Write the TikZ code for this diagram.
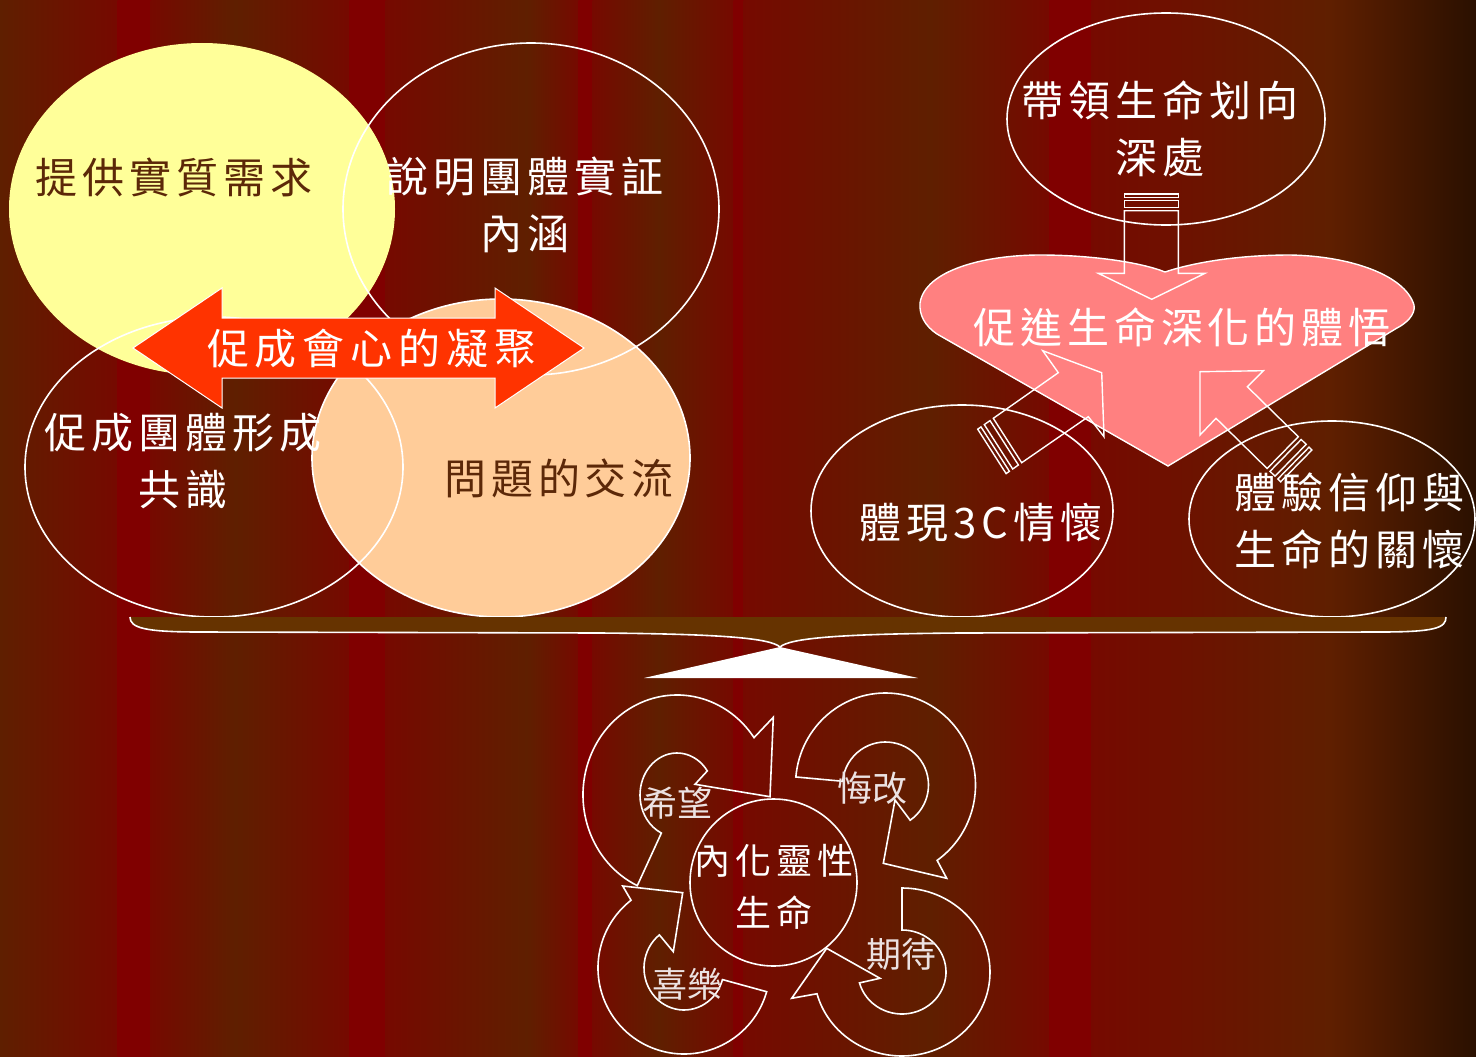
\documentclass[tikz,border=0pt]{standalone}
\usepackage{fontspec}
\newfontfamily\cjk{Noto Sans CJK TC}
\usetikzlibrary{calc}
\definecolor{bgred}{RGB}{128,0,0}
\definecolor{bgbrown}{RGB}{95,31,0}
\definecolor{bgdark}{RGB}{42,16,0}
\colorlet{bgnear}{bgbrown!30!bgred}
\definecolor{yel}{RGB}{255,255,153}
\definecolor{peach}{RGB}{255,204,153}
\definecolor{heartpink}{RGB}{255,128,128}
\definecolor{arrowred}{RGB}{255,51,0}
\definecolor{bracebrown}{RGB}{102,51,0}
\definecolor{darktext}{RGB}{92,40,8}
\definecolor{labelgray}{RGB}{236,226,226}
\makeatletter
\newdimen\spck
\spck=5pt
\newcommand\spc[1]{\@tfor\spc@c:=#1\do{\spc@c\kern\spck}\unkern}
\makeatother
\begin{document}
\begin{tikzpicture}[x=1pt,y=-1pt,
  outl/.style={draw=white,line width=1.6pt,line join=miter},
  bigtxt/.style={font=\cjk\fontsize{42}{57}\selectfont,align=center,inner sep=0pt,text=white},
  midtxt/.style={font=\cjk\fontsize{36}{52}\selectfont,align=center,inner sep=0pt,text=white},
  lbl/.style={font=\cjk\fontsize{35}{40}\selectfont,inner sep=0pt,text=labelgray}]
\useasboundingbox (0,0) rectangle (1476,1057);
% background stripes
\foreach \xa/\ca/\xb/\cb in {0/bgbrown/118/bgnear,118/bgred/151/bgred,
  151/bgnear/235/bgbrown,235/bgbrown/350/bgnear,350/bgred/386/bgred,
  386/bgnear/527/bgbrown,527/bgbrown/579/bgnear,579/bgred/593/bgred,
  593/bgnear/659/bgbrown,659/bgbrown/734/bgnear,734/bgred/744/bgred,
  744/bgnear/930/bgbrown,930/bgbrown/1050/bgnear,1050/bgred/1092/bgred,
  1092/bgnear/1330/bgbrown,1330/bgbrown/1477/bgdark}
  \shade[left color=\ca,right color=\cb] (\xa-0.3,-1) rectangle (\xb+0.3,1058);

% ---------- left group ----------
\fill[yel] (202,209) ellipse[x radius=193,y radius=166];
\fill[peach] (501,458) ellipse[x radius=189,y radius=159];
\draw[outl] (214,467) ellipse[x radius=189,y radius=150];
\draw[outl] (531,209) ellipse[x radius=188,y radius=166];
\draw[outl] (501,458) ellipse[x radius=189,y radius=159];
\draw[draw=white,line width=1pt,fill=arrowred,line join=miter]
  (133,348) -- (222,288) -- (222,318) -- (495,318) -- (495,288) -- (584,348)
  -- (495,408) -- (495,378) -- (222,378) -- (222,408) -- cycle;
\node[bigtxt,text=darktext] (tA) at (174,177) {\spc{提供實質需求}};
\node[bigtxt] (tB) at (525,205) {\spc{說明團體實証}\\\spc{內涵}};
\node[bigtxt] (tC) at (183,461) {\spc{促成團體形成}\\\spc{共識}};
\node[bigtxt,text=darktext] (tD) at (559,478) {\spc{問題的交流}};
\node[bigtxt] (tE) at (372,349) {\spck=6pt\spc{促成會心的凝聚}};

% ---------- right group ----------
\draw[outl,line width=1.4pt,fill=heartpink]
  (920,303) .. controls (925,270) and (985,255) .. (1040,255)
  .. controls (1090,255) and (1140,262) .. (1165,272)
  .. controls (1195,262) and (1240,255) .. (1290,255)
  .. controls (1350,256) and (1405,275) .. (1414,305)
  .. controls (1416,315) and (1405,324) .. (1397,328)
  -- (1168,466) -- (937,334)
  .. controls (925,326) and (919,315) .. cycle;
\draw[outl] (1166,119) ellipse[x radius=159,y radius=106];
\draw[outl] (962,511) ellipse[x radius=151,y radius=106];
\draw[outl] (1332,519) ellipse[x radius=143,y radius=98];
% top striped arrow
\draw[outl,line width=1.4pt] (1124.3,210.7) -- (1124.3,273.3) -- (1098.3,273.3) -- (1151.7,299.3)
  -- (1205,273.3) -- (1178.3,273.3) -- (1178.3,210.7) -- cycle;
\draw[outl,line width=1.4pt] (1124.3,200.7) rectangle (1178.3,207.3);
\draw[outl,line width=1.4pt] (1124.3,194) rectangle (1178.3,197.3);
% lower-left striped arrow
\draw[outl,line width=1.4pt] (993.3,418.3) -- (1058.3,372.7) -- (1042.7,350.7) -- (1101.7,372.7)
  -- (1104,436.7) -- (1088.3,416.7) -- (1021.7,462.7) -- cycle;
\draw[outl,line width=1.4pt] (990,420.6) -- (1018.4,465) -- (1012.7,469) -- (984.3,424.6) -- cycle;
\draw[outl,line width=1.4pt] (981,426.9) -- (1009.4,471.3) -- (1006.1,473.6) -- (977.7,429.2) -- cycle;
% lower-right striped arrow
\draw[outl,line width=1.4pt] (1298.3,436.7) -- (1247.3,386.7) -- (1263.3,370.7) -- (1200,371.7)
  -- (1200,435) -- (1216,418.3) -- (1267.1,468.5) -- cycle;
\draw[outl,line width=1.4pt] (1301.2,439.5) -- (1270,471.3) -- (1275,476.2) -- (1306.2,444.4) -- cycle;
\draw[outl,line width=1.4pt] (1309,447.2) -- (1277.8,479) -- (1280.7,481.8) -- (1311.9,450) -- cycle;
\node[bigtxt] (tF) at (1160,129) {\spc{帶領生命划向}\\\spc{深處}};
\node[bigtxt] (tG) at (1182,327) {\spc{促進生命深化的體悟}};
\node[bigtxt] (tH) at (981,523) {\spc{體現3C情懷}};
\node[bigtxt] (tI) at (1349,521) {\spc{體驗信仰與}\\\spc{生命的關懷}};

% ---------- brace and pivot ----------
\draw[outl,fill=bracebrown]
  (130,617) .. controls (130,628) and (145,632) .. (200,632) -- (600,633)
  .. controls (720,634) and (770,638) .. (780,647)
  .. controls (790,638) and (840,634) .. (960,633) -- (1380,632)
  .. controls (1435,632) and (1446,628) .. (1446,617);
\fill[white] (780,647) -- (918,678) -- (644,678) -- cycle;

% ---------- cycle ----------
\draw[outl] (773.5,882.5) circle[radius=83.5];
\draw[outl] (677,795) ++(115:94 and 100) arc[start angle=115,end angle=325,x radius=94,y radius=100]
  -- (773.3,717.3) -- (770,796.7) -- (695,784.3) -- ($(677,795)+(325:37 and 42)$)
  arc[start angle=325,end angle=115,x radius=37,y radius=42] -- cycle;
\draw[outl] (885.5,785) ++(185:90 and 92) arc[start angle=185,end angle=415,x radius=90,y radius=92]
  -- (946.7,878.3) -- (883.3,863.3) -- (895,800) -- ($(885.5,785)+(415:43 and 43)$)
  arc[start angle=415,end angle=185,x radius=43,y radius=43] -- cycle;
\draw[outl] (684,968) ++(16:86 and 86) arc[start angle=16,end angle=232,x radius=86,y radius=86]
  -- (622.7,886) -- (682.7,892.7) -- (673.3,951.7) -- ($(684,968)+(232:40 and 42)$)
  arc[start angle=232,end angle=16,x radius=40,y radius=42] -- cycle;
\draw[outl] (902,972) ++(270:88 and 84) arc[start angle=270,end angle=525,x radius=88,y radius=84]
  -- (791.7,998.3) -- (826.7,948.3) -- (880,978.3) -- ($(902,972)+(525:44 and 42)$)
  arc[start angle=525,end angle=270,x radius=44,y radius=42] -- cycle;
\node[midtxt] (tJ) at (774,887) {\spc{內化靈性}\\\spc{生命}};
\node[lbl] (lA) at (677,803) {希望};
\node[lbl] (lB) at (872,788) {悔改};
\node[lbl] (lC) at (687,984) {喜樂};
\node[lbl] (lD) at (901,954) {期待};
\end{tikzpicture}
\end{document}
